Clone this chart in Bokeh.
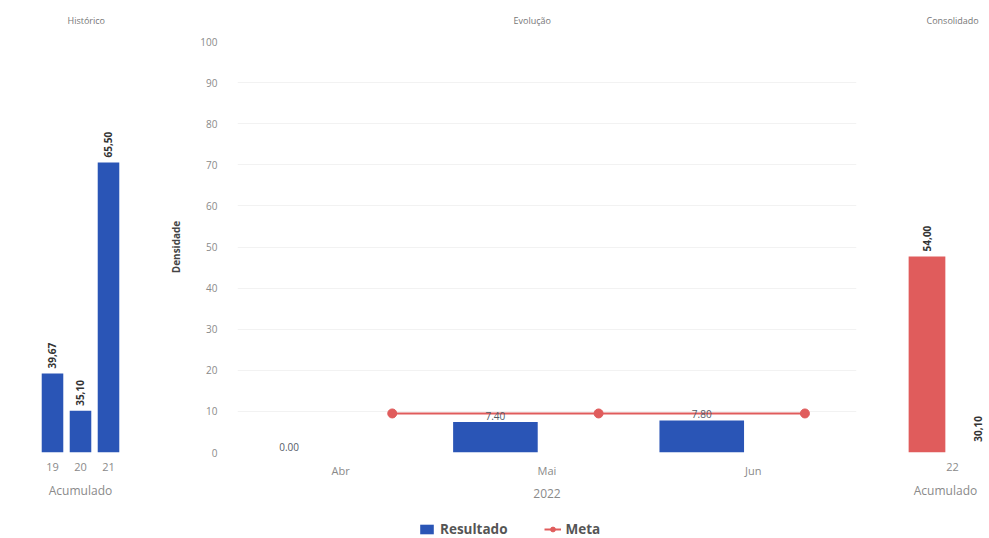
import math
from bokeh.plotting import figure
from bokeh.models import (Range1d, FixedTicker, SingleIntervalTicker, ColumnDataSource,
                          LabelSet, Legend, LegendItem, Title)
from bokeh.core.properties import value
from bokeh.layouts import row, column
from bokeh.transform import dodge
from bokeh.embed import file_html
from bokeh.resources import INLINE

# ---------------- data ----------------
hist_years = ["19", "20", "21"]
hist_values = [39.67, 35.10, 65.50]

months = ["Abr", "Mai", "Jun"]
year_label = "2022"
resultado = [0.00, 7.40, 7.80]
meta = [9.5, 9.5, 9.5]

cons_years = ["22"]
cons_resultado = [54.00]
cons_meta = [30.10]

series_names = ["Resultado", "Meta"]

BLUE = "#2a55b6"
RED = "#e05c5c"
TICK_COLOR = "#8a8a8a"
FONT = "Open Sans"

H = 508
TOP = 41
FRAME_H = 411
BOTTOM = H - TOP - FRAME_H
NAN = float("nan")


def br(v):
    return f"{v:.2f}".replace(".", ",")


def style_common(p, title_text, title_offset):
    p.outline_line_color = None
    p.xgrid.grid_line_color = None
    p.background_fill_color = "white"
    p.border_fill_color = "white"
    t = Title(text=title_text, align="left", offset=title_offset, standoff=25,
              vertical_align="top",
              text_font=FONT, text_font_size="9px", text_font_style="normal",
              text_color="#777777")
    p.add_layout(t, "above")
    ax = p.xaxis[0]
    ax.axis_line_color = None
    ax.major_tick_line_color = None
    ax.minor_tick_line_color = None
    ax.major_label_text_font = FONT
    ax.major_label_text_font_size = "11px"
    ax.major_label_text_color = TICK_COLOR
    ax.major_label_standoff = 4
    ax.axis_label_text_font = FONT
    ax.axis_label_text_font_size = "12px"
    ax.axis_label_text_font_style = "normal"
    ax.axis_label_text_color = TICK_COLOR
    ax.axis_label_standoff = 8


def rot_labels(src, x, y, text, yoff):
    return LabelSet(x=x, y=y, text=text, source=src, angle=math.pi / 2,
                    text_align="left", text_baseline="middle", y_offset=yoff,
                    text_font=value(FONT), text_font_size=value("10px"),
                    text_font_style="bold", text_color="#333333")


# ---------------- left: Histórico ----------------
p1 = figure(width=158, height=H, x_range=Range1d(-0.5, len(hist_years) - 0.5),
            y_range=Range1d(30, 80.3), output_backend="svg", toolbar_location=None,
            y_axis_location=None, min_border_left=38, min_border_right=36,
            min_border_top=TOP, min_border_bottom=BOTTOM)
src1 = ColumnDataSource(dict(x=list(range(len(hist_years))), top=hist_values,
                             lbl=[br(v) for v in hist_values]))
p1.vbar(x="x", top="top", bottom=30, width=0.77, source=src1, fill_color=BLUE,
        line_color=None)
p1.add_layout(rot_labels(src1, "x", "top", "lbl", 5))
p1.ygrid.grid_line_color = None
p1.xaxis.ticker = FixedTicker(ticks=list(range(len(hist_years))))
p1.xaxis.major_label_overrides = {i: y for i, y in enumerate(hist_years)}
p1.xaxis.axis_label = "Acumulado"
style_common(p1, "Histórico", 29)

# ---------------- center: Evolução ----------------
p2 = figure(width=722, height=H, x_range=Range1d(-0.5, len(months) - 0.5),
            y_range=Range1d(0, 100), output_backend="svg", toolbar_location=None,
            min_border_left=79, min_border_right=24, min_border_top=TOP,
            min_border_bottom=BOTTOM)
src2 = ColumnDataSource(dict(x=list(range(len(months))), res=resultado, meta=meta,
                             lbl=[f"{v:.2f}" for v in resultado]))
p2.vbar(x=dodge("x", -0.25), top="res", width=0.41, source=src2, fill_color=BLUE,
        line_color=None)
p2.line(x=dodge("x", 0.25), y="meta", source=src2, line_color=RED, line_width=2)
p2.scatter(x=dodge("x", 0.25), y="meta", source=src2, size=9,
           fill_color=RED, line_color=RED)
p2.add_layout(LabelSet(x=dodge("x", -0.25), y="res", text="lbl", source=src2,
                       text_align="center", text_baseline="middle", y_offset=6,
                       text_font=value(FONT), text_font_size=value("10px"),
                       text_color="#555a66"))
p2.xaxis.ticker = FixedTicker(ticks=list(range(len(months))))
p2.xaxis.major_label_overrides = {i: m for i, m in enumerate(months)}
p2.xaxis.axis_label = year_label
p2.ygrid.grid_line_color = "#f2f2f2"
p2.yaxis.ticker = SingleIntervalTicker(interval=10, num_minor_ticks=0)
ya = p2.yaxis[0]
ya.axis_line_color = None
ya.major_tick_line_color = None
ya.minor_tick_line_color = None
ya.major_label_standoff = 14
ya.major_label_text_font = FONT
ya.major_label_text_font_size = "10px"
ya.major_label_text_color = TICK_COLOR
ya.axis_label = "Densidade"
ya.axis_label_text_font = FONT
ya.axis_label_text_font_size = "10px"
ya.axis_label_text_font_style = "bold"
ya.axis_label_text_color = "#444444"
ya.axis_label_standoff = 14
style_common(p2, "Evolução", 276)

# ---------------- right: Consolidado ----------------
p3 = figure(width=109, height=H, x_range=Range1d(-0.5, 0.363), y_range=Range1d(30, 80.3),
            output_backend="svg", toolbar_location=None, y_axis_location=None,
            min_border_left=21, min_border_right=0, min_border_top=TOP,
            min_border_bottom=BOTTOM)
src3 = ColumnDataSource(dict(x=list(range(len(cons_years))), res=cons_resultado,
                             meta=cons_meta, lres=[br(v) for v in cons_resultado],
                             lmeta=[br(v) for v in cons_meta]))
p3.vbar(x=dodge("x", -0.25), top="res", bottom=30, width=0.36, source=src3,
        fill_color=RED, line_color=None)
p3.add_layout(rot_labels(src3, dodge("x", -0.25), "res", "lres", 5))
p3.add_layout(rot_labels(src3, dodge("x", 0.25), "meta", "lmeta", 10))
p3.ygrid.grid_line_color = None
p3.xaxis.ticker = FixedTicker(ticks=list(range(len(cons_years))))
p3.xaxis.major_label_overrides = {i: y for i, y in enumerate(cons_years)}
p3.xaxis.axis_label = "Acumulado"
style_common(p3, "Consolidado", 25)

# ---------------- legend strip ----------------
p4 = figure(width=989, height=30, x_range=Range1d(0, 1), y_range=Range1d(0, 1),
            output_backend="svg", toolbar_location=None, x_axis_location=None,
            y_axis_location=None, min_border=0)
p4.outline_line_color = None
p4.grid.grid_line_color = None
# legend-only renderers (no visible data)
lg_bar = p4.vbar(x=[NAN], top=[NAN], width=0.1, fill_color=BLUE, line_color=None)
lg_line = p4.line(x=[NAN], y=[NAN], line_color=RED, line_width=2)
lg_dot = p4.scatter(x=[NAN], y=[NAN], size=8, fill_color=RED, line_color=RED)
legend = Legend(items=[LegendItem(label=series_names[0], renderers=[lg_bar]),
                       LegendItem(label=series_names[1], renderers=[lg_line, lg_dot])],
                orientation="horizontal", location=(418, 0),
                label_text_font=FONT, label_text_font_size="13.5px",
                label_text_font_style="bold", label_text_color="#555555",
                glyph_width=17, glyph_height=12, spacing=36, border_line_color=None,
                background_fill_alpha=0, margin=0, padding=2)
p4.add_layout(legend, "center")

layout = column(row(p1, p2, p3), p4)
open("out.html", "w").write(file_html(layout, INLINE))
